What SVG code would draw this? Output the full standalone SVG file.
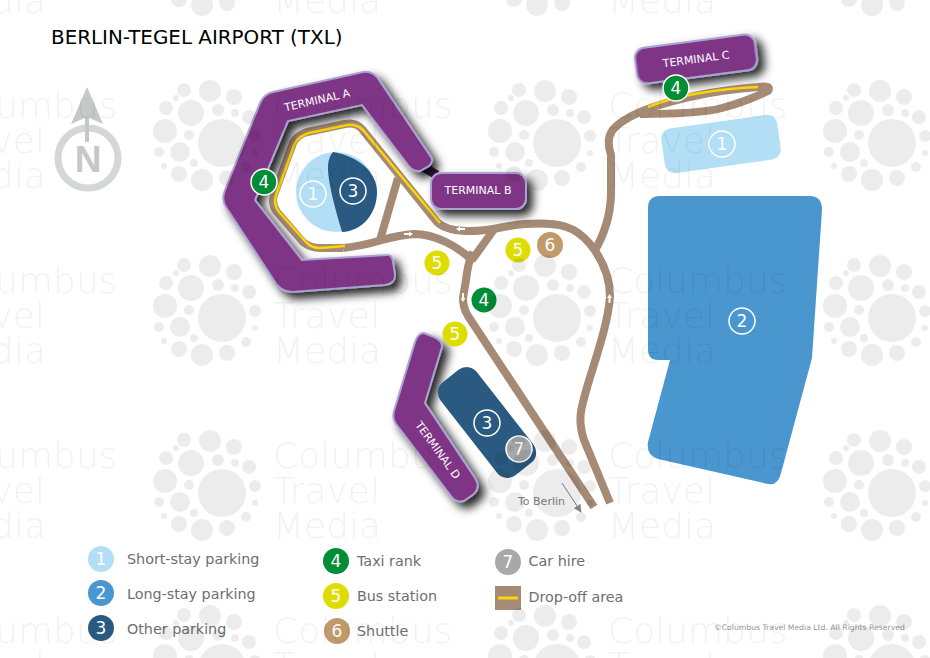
<svg xmlns="http://www.w3.org/2000/svg" xmlns:xlink="http://www.w3.org/1999/xlink" width="930" height="658" viewBox="0 0 930 658">
<style>
text{font-family:"DejaVu Sans","Liberation Sans",sans-serif}
.term{fill:#7f3486;stroke:#aba3cf;stroke-width:2;filter:url(#sh)}
.tl{fill:#fff;font-size:11px;text-anchor:middle}
.road{fill:none;stroke:#a58a75;stroke-width:8;stroke-linejoin:round;stroke-linecap:butt}
.yel{fill:none;stroke:#fdd500;stroke-width:2.500;stroke-linejoin:round}
.mk{stroke:#fff;stroke-width:1.5}
.n{fill:#fff;font-size:17px;text-anchor:middle}
.lg{fill:#6d6e71;font-size:14.300px}
.c1{fill:#b3dff6}.c2{fill:#4a96cf}.c3{fill:#2a5a82}.c4{fill:#008d36}.c5{fill:#dedc00}.c6{fill:#c19a6b}.c7{fill:#a7a8aa}
.ar{fill:#fff}
.wd{fill:#000;opacity:.07}
.wt{fill:#000;opacity:.05;font-size:36px;font-weight:200}
</style>
<defs>
<filter id="sh" x="-30%" y="-30%" width="170%" height="170%"><feDropShadow dx="6" dy="6" stdDeviation="5" flood-color="#000" flood-opacity=".85"/></filter>
<marker id="ah" viewBox="0 0 10 10" refX="9" refY="5" markerWidth="8" markerHeight="8" orient="auto" markerUnits="userSpaceOnUse"><path d="M0,0L10,5L0,10Z" fill="#808285"/></marker>
<g id="wm">
<g class="wd">
<circle cx="0" cy="0" r="24"/><circle cx="-31" cy="-30" r="13"/><circle cx="-12" cy="-52" r="11"/><circle cx="12" cy="-46" r="8"/><circle cx="-38" cy="-53" r="7"/><circle cx="-56" cy="-35" r="7"/><circle cx="-4" cy="-33" r="6"/><circle cx="13" cy="-30" r="4"/><circle cx="27" cy="-26" r="7"/><circle cx="-57" cy="-12" r="12"/><circle cx="-33" cy="-8" r="5"/><circle cx="-63" cy="9" r="5"/><circle cx="-42" cy="9" r="10"/><circle cx="-28" cy="20" r="4"/><circle cx="-58" cy="23" r="3"/><circle cx="-43" cy="31" r="8"/><circle cx="-20" cy="37" r="11"/><circle cx="5" cy="35" r="8"/><circle cx="24" cy="24" r="5"/><circle cx="33" cy="-7" r="6"/><circle cx="33" cy="10" r="3"/><circle cx="-46" cy="-45" r="3"/>
</g>
<text class="wt" x="51" y="-25">Columbus</text><text class="wt" x="51" y="10">Travel</text><text class="wt" x="51" y="45">Media</text>
</g>
</defs>
<rect width="930" height="658" fill="#fff"/>
<text id="title" x="51" y="44" font-size="19.900" fill="#000">BERLIN-TEGEL AIRPORT (TXL)</text>
<g id="north">
<circle cx="88" cy="158" r="30" fill="none" stroke="#d5d6d8" stroke-width="7"/>
<path d="M87,87L103,124L87,117L71,124Z" fill="#c6c7c9"/>
<path d="M87,117V142" stroke="#c6c7c9" stroke-width="4"/>
<text x="88" y="172" font-size="37" font-weight="700" text-anchor="middle" fill="#c6c7c9" style="font-family:'Liberation Sans',sans-serif">N</text>
</g>
<g id="parking-1-3">
<circle class="c1" cx="336" cy="192" r="40"/>
<path class="c3" d="M333,152C358,156 377,172 377,192C377,214 362,231 342,232C336,212 327,180 328,165Q329,156 333,152Z"/>
<circle class="mk" cx="313" cy="194" r="13" fill="none"/><text class="n" x="313" y="200">1</text>
<circle class="mk" cx="353" cy="191" r="13" fill="none"/><text class="n" x="353" y="197">3</text>
</g>
<g id="connectors">
<path class="road" d="M398,178L380,240"/>
<path class="road" d="M495,228L472,260"/>
<path class="road" d="M343,248Q362,246 382,240Q400,235 414,234C435,234 458,246 474,262"/>
<path class="road" d="M343,248H320Q310,248 303,242L277,212Q271,204 274,195L293,143Q297,135 307,132L345,124Q356,122 362,129L437,222Q445,230 465,231C490,232 500,226 525,224C560,222 575,226 590,244C603,260 610,278 610,297C607,335 585,385 581,412Q579,425 584,440L610,503"/>
<path class="road" d="M473,252Q468,262 466,280L463,298Q463,308 468,316L594,507"/>
<path class="road" d="M594,252Q610,225 611,195V155Q606,140 612,131Q620,120 645,110C680,97 720,90 758,87Q772,85 768,91Q745,102 722,108Q700,114 640,114"/>
<path class="yel" d="M345,246L320,248Q312,248 307,243L279,212Q273,204 276,195L295,143Q299,136 309,133L347,125Q357,124 363,130L440,223"/>
<path class="yel" d="M648,107Q670,98 700,93Q730,88 758,87"/>
<path class="ar" d="M404,233H409V231.500L413,234L409,236.500V235H404Z"/>
<path class="ar" d="M465,228H460V226.500L456,229L460,231.500V230H465Z"/>
<path class="ar" d="M462,293V298H460.500L463,302L465.500,298H464V293Z"/>
<path class="ar" d="M608.500,303V298H607L609.500,294L612,298H610.500V303Z"/>
<path d="M562,483L581,512" stroke="#808285" stroke-width="1" fill="none" marker-end="url(#ah)"/>
</g>
<path d="M423,167L437,175" stroke="#4a2056" stroke-width="9"/>
<g id="terminal-a">
<path class="term" d="M387,255L302,260L255,200L288,121L362,105L408,165Q413,172 420,171L429,166Q434,161 431,157L377,77Q371,71 363,72L273,92Q264,94 260,103L225,190Q221,200 226,207L273,279Q280,292 292,292L385,285Q395,284 395,275L393,262Q392,254 387,255Z"/>
<text class="tl" transform="translate(317 100) rotate(-13)" y="4">TERMINAL A</text>
</g>
<g id="terminal-b">
<rect class="term" x="431" y="173" width="95" height="36" rx="10"/>
<text class="tl" x="478" y="194">TERMINAL B</text>
</g>
<g id="terminal-c">
<rect class="term" x="635.500" y="41" width="121" height="36" rx="10" transform="rotate(-7.500 696 59)"/>
<text class="tl" transform="translate(696 59) rotate(-7.500)" y="4">TERMINAL C</text>
</g>
<g id="terminal-d">
<path class="term" d="M424,333Q418,333 415,342L394,411Q392,418 396,424L451,496Q456,503 464,501L474,494Q481,487 475,478L425,403L442,347Q443,341 434,337Z"/>
<text class="tl" transform="translate(438 450) rotate(54)" y="4">TERMINAL D</text>
</g>
<g id="parking-1"><rect class="c1" x="662.500" y="121.500" width="117" height="45" rx="10" transform="rotate(-8 721 144)"/><circle class="mk" cx="722" cy="144" r="13" fill="none"/><text class="n" x="722" y="150">1</text></g>
<g id="parking-2"><path class="c2" d="M660,196H810Q822,196 822,210L812,358L781,473Q778,486 768,484L658,459Q646,455 648,442L670,360H658Q648,360 648,349V208Q648,196 660,196Z"/><circle class="mk" cx="742" cy="321" r="13" fill="none"/><text class="n" x="742" y="327">2</text></g>
<g id="parking-3"><rect class="c3" x="-59" y="-23" width="118" height="46" rx="13" transform="translate(487 422.500) rotate(52)"/><circle class="mk" cx="487" cy="423" r="13" fill="none"/><text class="n" x="487" y="429">3</text></g>
<g id="hire"><circle class="c7 mk" cx="519" cy="449" r="13"/><text class="n" x="519" y="455">7</text></g>
<g id="taxi-1"><circle class="c4 mk" cx="264" cy="182" r="13"/><text class="n" x="264" y="188">4</text></g>
<g id="taxi-2"><circle class="c4 mk" cx="676" cy="88" r="13"/><text class="n" x="676" y="94">4</text></g>
<g id="taxi-3"><circle class="c4" cx="484" cy="300" r="12.500"/><text class="n" x="484" y="306">4</text></g>
<g id="bus-1"><circle class="c5" cx="437" cy="263" r="12.500"/><text class="n" x="437" y="269">5</text></g>
<g id="bus-2"><circle class="c5" cx="518" cy="250" r="12.500"/><text class="n" x="518" y="256">5</text></g>
<g id="bus-3"><circle class="c5" cx="455" cy="334" r="12.500"/><text class="n" x="455" y="340">5</text></g>
<g id="shuttle"><circle class="c6" cx="550" cy="245" r="13"/><text class="n" x="550" y="251">6</text></g>
<text id="to-berlin" x="518" y="505" font-size="11" fill="#808285">To Berlin</text>
<g id="legend">
<circle class="c1" cx="101" cy="559" r="13"/><text class="n" x="101" y="565">1</text><text class="lg" x="127" y="563.500">Short-stay parking</text>
<circle class="c2" cx="101" cy="593" r="13"/><text class="n" x="101" y="599">2</text><text class="lg" x="127" y="599">Long-stay parking</text>
<circle class="c3" cx="101" cy="628" r="13"/><text class="n" x="101" y="634">3</text><text class="lg" x="127" y="634">Other parking</text>
<circle class="c4" cx="336" cy="561" r="13"/><text class="n" x="336" y="567">4</text><text class="lg" x="357" y="565.500">Taxi rank</text>
<circle class="c5" cx="336" cy="596" r="13"/><text class="n" x="336" y="602">5</text><text class="lg" x="357" y="600.500">Bus station</text>
<circle class="c6" cx="337" cy="631" r="13"/><text class="n" x="337" y="637">6</text><text class="lg" x="357" y="636">Shuttle</text>
<circle class="c7" cx="508" cy="562" r="13"/><text class="n" x="508" y="568">7</text><text class="lg" x="528.500" y="565.500">Car hire</text>
<rect x="495" y="586" width="26" height="24" fill="#a58a75"/><path d="M498,598H518" stroke="#fdd500" stroke-width="3"/><text class="lg" x="528.500" y="601.500">Drop-off area</text>
<text x="714" y="630" font-size="7.700" fill="#939598">©Columbus Travel Media Ltd. All Rights Reserved</text>
</g>
<g id="watermark">
<use href="#wm" x="-113" y="-32"/><use href="#wm" x="222" y="-32"/><use href="#wm" x="557" y="-32"/><use href="#wm" x="892" y="-32"/>
<use href="#wm" x="-113" y="143"/><use href="#wm" x="222" y="143"/><use href="#wm" x="557" y="143"/><use href="#wm" x="892" y="143"/>
<use href="#wm" x="-113" y="318"/><use href="#wm" x="222" y="318"/><use href="#wm" x="557" y="318"/><use href="#wm" x="892" y="318"/>
<use href="#wm" x="-113" y="493"/><use href="#wm" x="222" y="493"/><use href="#wm" x="557" y="493"/><use href="#wm" x="892" y="493"/>
<use href="#wm" x="-113" y="668"/><use href="#wm" x="222" y="668"/><use href="#wm" x="557" y="668"/><use href="#wm" x="892" y="668"/>
</g>
</svg>
